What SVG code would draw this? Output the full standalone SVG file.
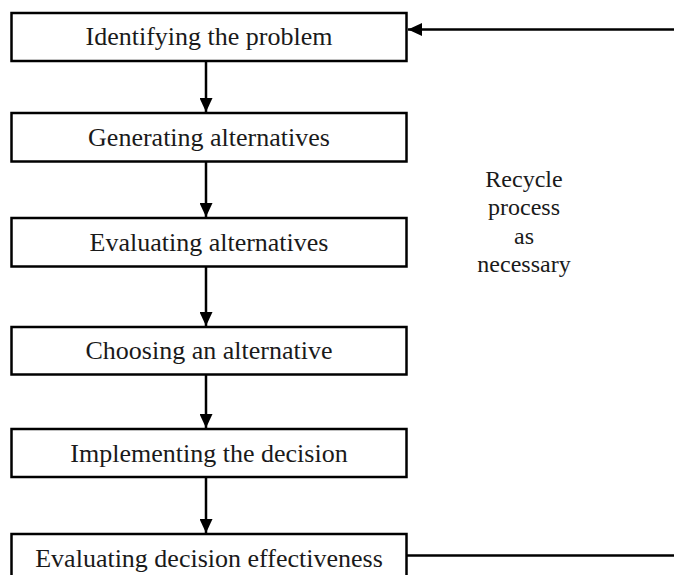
<svg xmlns="http://www.w3.org/2000/svg" width="674" height="575" viewBox="0 0 674 575">
  <style>
    .box { fill: #ffffff; stroke: #000000; stroke-width: 2.5; }
    .lbl { font-family: "Liberation Serif", "Times New Roman", serif; font-size: 26px; fill: #1a1a1a; text-anchor: middle; }
    .note { font-family: "Liberation Serif", "Times New Roman", serif; font-size: 24px; fill: #1a1a1a; text-anchor: middle; }
    .conn { fill: none; stroke: #000000; stroke-width: 2.5; }
  </style>
  <defs>
    <marker id="ah" markerUnits="userSpaceOnUse" markerWidth="14" markerHeight="13" refX="14" refY="6.5" orient="auto">
      <path d="M0,0 L14,6.5 L0,13 Z" fill="#000000"/>
    </marker>
  </defs>
  <rect width="674" height="575" fill="#ffffff"/>

  <g id="connectors">
    <line class="conn" x1="206" y1="61" x2="206" y2="112" marker-end="url(#ah)"/>
    <line class="conn" x1="206" y1="161" x2="206" y2="217" marker-end="url(#ah)"/>
    <line class="conn" x1="206" y1="266" x2="206" y2="326" marker-end="url(#ah)"/>
    <line class="conn" x1="206" y1="375" x2="206" y2="428" marker-end="url(#ah)"/>
    <line class="conn" x1="206" y1="477" x2="206" y2="533" marker-end="url(#ah)"/>
    <line class="conn" x1="674" y1="29.5" x2="408" y2="29.5" marker-end="url(#ah)"/>
    <line class="conn" x1="407" y1="555.5" x2="674" y2="555.5"/>
  </g>

  <g id="n1">
    <rect class="box" x="11.5" y="13" width="395" height="48"/>
    <text class="lbl" x="209" y="45">Identifying the problem</text>
  </g>
  <g id="n2">
    <rect class="box" x="11.5" y="113" width="395" height="48.5"/>
    <text class="lbl" x="209" y="145.5">Generating alternatives</text>
  </g>
  <g id="n3">
    <rect class="box" x="11.5" y="218" width="395" height="48.5"/>
    <text class="lbl" x="209" y="250.5">Evaluating alternatives</text>
  </g>
  <g id="n4">
    <rect class="box" x="11.5" y="327" width="395" height="47.5"/>
    <text class="lbl" x="209" y="359">Choosing an alternative</text>
  </g>
  <g id="n5">
    <rect class="box" x="11.5" y="429" width="395" height="48"/>
    <text class="lbl" x="209" y="462">Implementing the decision</text>
  </g>
  <g id="n6">
    <rect class="box" x="11.5" y="534" width="395" height="48"/>
    <text class="lbl" x="209" y="567">Evaluating decision effectiveness</text>
  </g>

  <g id="note">
    <text class="note" x="524" y="187">Recycle</text>
    <text class="note" x="524" y="215">process</text>
    <text class="note" x="524" y="244">as</text>
    <text class="note" x="524" y="272">necessary</text>
  </g>
</svg>
